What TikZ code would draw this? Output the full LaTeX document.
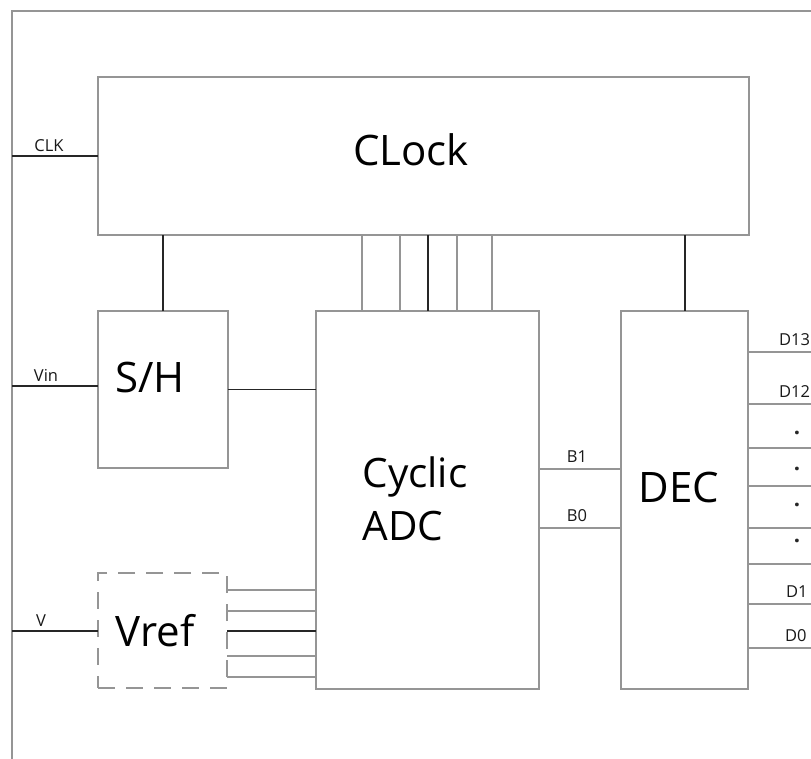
\documentclass[tikz,border=0pt]{standalone}
\usepackage{fontspec}
\setmainfont{Open Sans}
\begin{document}
\begin{tikzpicture}[x=1pt,y=-1pt,
  box/.style={draw=boxgray,line width=2.9pt,rectangle,inner sep=0pt,outer sep=0pt},
  dbox/.style={box,dashed,dash pattern=on 17pt off 11pt},
  big/.style={font=\fontsize{42}{50}\selectfont,inner sep=0pt,text=black},
  small/.style={font=\fontsize{16.5}{19}\selectfont,inner sep=0pt,text=black!90},
  dotlbl/.style={font=\fontsize{22}{24}\selectfont\bfseries,inner sep=0pt,text=black!85},
  dk/.style={draw=black!85,line width=1.6pt},
  gy/.style={draw=boxgray,line width=2.7pt}]
\definecolor{boxgray}{HTML}{959595}
\useasboundingbox (0,0) rectangle (811,758);
\clip (0,0) rectangle (811,758);
\fill[white] (0,0) rectangle (811,758);
% outer frame
\draw[boxgray,line width=2.9pt] (12,900) -- (12,11) -- (900,11);
% blocks
\node[box,minimum width=651pt,minimum height=158pt] (clock) at (423.5,156) {};
\node[box,minimum width=130pt,minimum height=157pt] (sh) at (163,389.5) {};
\node[box,minimum width=223pt,minimum height=378pt] (adc) at (427.5,500) {};
\node[box,minimum width=127pt,minimum height=378pt] (dec) at (684.5,500) {};
\node[dbox,minimum width=129pt,minimum height=115pt] (vref) at (162.5,630.5) {};
% block texts
\node[big] (tclock) at (411,150) {CLock};
\node[big] (tsh) at (150,377) {S/H};
\node[big,align=left,font=\fontsize{40.5}{53}\selectfont] (tadc) at (415,499) {Cyclic\\ADC};
\node[big] (tdec) at (679,487) {DEC};
\node[big] (tvref) at (155,631) {Vref};
% inputs
\coordinate (clkin) at (12,156);
\coordinate (vinin) at (12,386);
\coordinate (vin2) at (12,631);
\draw[dk] (clkin) -- (clock.west);
\draw[dk] (vinin) -- (vinin -| sh.west);
\draw[dk] (vin2) -- (vin2 -| vref.west);
\node[small] (lclk) at (49,146) {CLK};
\node[small] (lvin) at (46,375) {Vin};
\node[small] (lv) at (41,621) {V};
% clock connections
\draw[dk] (sh.north) -- (sh.north |- clock.south);
\foreach \x in {362,400,457,492} \draw[gy] (\x,0 |- clock.south) -- (\x,0 |- adc.north);
\draw[dk] (428,0 |- clock.south) -- (428,0 |- adc.north);
\draw[dk] (685,0 |- clock.south) -- (685,0 |- dec.north);
% S/H to ADC
\draw[dk] (sh.east) -- (sh.east -| adc.west);
% Vref to ADC
\foreach \y in {590,611,656,677} \draw[gy] (vref.east |- 0,\y) -- (adc.west |- 0,\y);
\draw[dk] (vref.east |- 0,631) -- (adc.west |- 0,631);
% ADC to DEC
\draw[gy] (adc.east |- 0,469) -- (dec.west |- 0,469);
\draw[gy] (adc.east |- 0,528) -- (dec.west |- 0,528);
\node[small] (lb1) at (577,457) {B1};
\node[small] (lb0) at (577,516) {B0};
% outputs
\foreach \y in {352,404,448,486,528,564,604,648} \draw[gy] (dec.east |- 0,\y) -- (830,\y);
\node[small,anchor=west] (ld13) at (779,340) {D13};
\node[small,anchor=west] (ld12) at (779,392) {D12};
\node[dotlbl] (dot1) at (797,433) {.};
\node[dotlbl] (dot2) at (797,469) {.};
\node[dotlbl] (dot3) at (797,505) {.};
\node[dotlbl] (dot4) at (797,541) {.};
\node[small,anchor=west] (ld1) at (786,592) {D1};
\node[small,anchor=west] (ld0) at (785,636) {D0};
\end{tikzpicture}
\end{document}
